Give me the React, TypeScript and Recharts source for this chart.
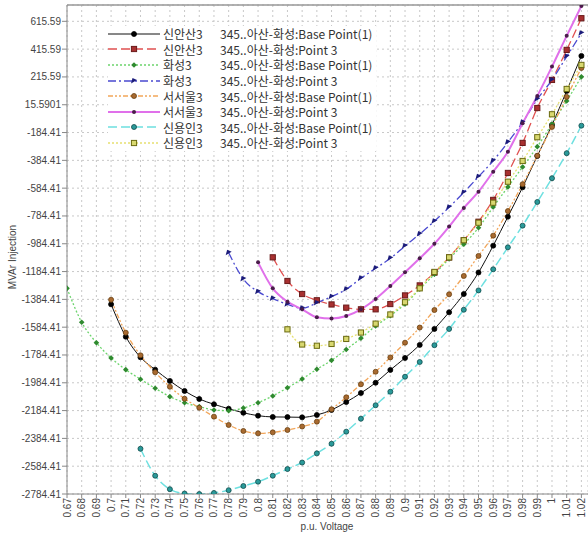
import React from 'react';
import { LineChart, Line, XAxis, YAxis, CartesianGrid, Legend, ReferenceLine } from 'recharts';

// p.u. voltage steps (x)
const voltages = [
  0.67, 0.68, 0.69, 0.7, 0.71, 0.72, 0.73, 0.74, 0.75, 0.76, 0.77, 0.78,
  0.79, 0.8, 0.81, 0.82, 0.83, 0.84, 0.85, 0.86, 0.87, 0.88, 0.89, 0.9,
  0.91, 0.92, 0.93, 0.94, 0.95, 0.96, 0.97, 0.98, 0.99, 1, 1.01, 1.02,
];
const xTickLabels = [
  '0.67', '0.68', '0.69', '0.7', '0.71', '0.72', '0.73', '0.74', '0.75', '0.76', '0.77', '0.78',
  '0.79', '0.8', '0.81', '0.82', '0.83', '0.84', '0.85', '0.86', '0.87', '0.88', '0.89', '0.9',
  '0.91', '0.92', '0.93', '0.94', '0.95', '0.96', '0.97', '0.98', '0.99', '1', '1.01', '1.02',
];

const yTicks = [
  -2784.41, -2584.41, -2384.41, -2184.41, -1984.41, -1784.41, -1584.41, -1384.41, -1184.41,
  -984.41, -784.41, -584.41, -384.41, -184.41, 15.5901, 215.59, 415.59, 615.59,
];
const yTickLabels = [
  '-2784.41', '-2584.41', '-2384.41', '-2184.41', '-1984.41', '-1784.41', '-1584.41', '-1384.41', '-1184.41',
  '-984.41', '-784.41', '-584.41', '-384.41', '-184.41', '15.5901', '215.59', '415.59', '615.59',
];

// MVAr injection, aligned with voltages (null = no point)
const sinansanBase = [
  null, null, null, -1420, -1653, -1801, -1890, -1971, -2043, -2101, -2139, -2171,
  -2200, -2221, -2230, -2231, -2233, -2216, -2180, -2123, -2058, -1984, -1892, -1806,
  -1712, -1597, -1477, -1346, -1191, -998, -790, -578, -353, -130, 115, 367,
];
const sinansanP3 = [
  null, null, null, null, null, null, null, null, null, null, null, null,
  null, null, -1082, -1252, -1346, -1391, -1421, -1444, -1456, -1456, -1418, -1356,
  -1284, -1192, -1083, -959, -826, -669, -475, -259, -8, 194, 410, 638,
];
const hwaseongBase = [
  -1305, -1549, -1696, -1806, -1890, -1959, -2024, -2084, -2128, -2156, -2180, -2185,
  -2166, -2128, -2079, -2020, -1957, -1887, -1823, -1745, -1664, -1576, -1502, -1418,
  -1310, -1204, -1092, -988, -869, -720, -576, -432, -286, -123, 43, 216,
];
const hwaseongP3 = [
  null, null, null, null, null, null, null, null, null, null, null, -1049,
  -1238, -1329, -1379, -1420, -1449, -1410, -1365, -1312, -1233, -1161, -1089, -1000,
  -914, -822, -722, -615, -502, -387, -254, -110, 55, 194, 362, 530,
];
const seoseoulBase = [
  null, null, null, -1387, -1624, -1787, -1909, -2013, -2099, -2164, -2228, -2288,
  -2331, -2348, -2341, -2324, -2299, -2264, -2175, -2089, -1995, -1905, -1802, -1696,
  -1587, -1461, -1348, -1216, -1072, -926, -749, -556, -351, -144, 72, 280,
];
const seoseoulP3 = [
  null, null, null, null, null, null, null, null, null, null, null, null,
  null, -1118, -1305, -1401, -1456, -1513, -1522, -1504, -1456, -1382, -1288, -1190,
  -1089, -984, -861, -727, -610, -466, -322, -118, 79, 290, 511, 726,
];
const sinyonginBase = [
  null, null, null, null, null, -2459, -2653, -2750, -2781, -2784.41, -2777, -2757,
  -2727, -2696, -2653, -2605, -2558, -2492, -2423, -2336, -2243, -2146, -2049, -1941,
  -1835, -1714, -1597, -1459, -1320, -1168, -1010, -854, -684, -513, -333, -135,
];
const sinyonginP3 = [
  null, null, null, null, null, null, null, null, null, null, null, null,
  null, null, null, -1600, -1709, -1718, -1705, -1669, -1623, -1559, -1493, -1405,
  -1305, -1187, -1082, -959, -833, -689, -538, -389, -218, -53, 129, 302,
];

const series = [
  { key: 's0', name: '신안산3', desc: '345..아산-화성:Base Point(1)', values: sinansanBase, color: '#111111', width: 1, dash: undefined, shape: 'circle', fill: '#000000', edge: '#000000' },
  { key: 's1', name: '신안산3', desc: '345..아산-화성:Point 3', values: sinansanP3, color: '#e05050', width: 1.3, dash: '9 4', shape: 'square', fill: '#a83030', edge: '#6a1a1a' },
  { key: 's2', name: '화성3', desc: '345..아산-화성:Base Point(1)', values: hwaseongBase, color: '#6cd46c', width: 1.3, dash: '2 2', shape: 'diamond', fill: '#2f8a2f', edge: '#2f8a2f' },
  { key: 's3', name: '화성3', desc: '345..아산-화성:Point 3', values: hwaseongP3, color: '#4a4ad0', width: 1.3, dash: '8 3 2 3', shape: 'arrow', fill: '#1c1c7a', edge: '#1c1c7a' },
  { key: 's4', name: '서서울3', desc: '345..아산-화성:Base Point(1)', values: seoseoulBase, color: '#f2a65a', width: 1.3, dash: '5 2 2 2 2 2', shape: 'circle', fill: '#a86a30', edge: '#6a4010' },
  { key: 's5', name: '서서울3', desc: '345..아산-화성:Point 3', values: seoseoulP3, color: '#e070ea', width: 2, dash: undefined, shape: 'dot', fill: '#4a1c4a', edge: '#4a1c4a' },
  { key: 's6', name: '신용인3', desc: '345..아산-화성:Base Point(1)', values: sinyonginBase, color: '#6ee0e0', width: 1.5, dash: '9 4', shape: 'circle', fill: '#2a9a9a', edge: '#104a4a' },
  { key: 's7', name: '신용인3', desc: '345..아산-화성:Point 3', values: sinyonginP3, color: '#e6e070', width: 1.3, dash: '2 2', shape: 'square', fill: '#d8d870', edge: '#6a6a10' },
];

const rows = voltages.map((v, i) => {
  const row: any = { v };
  series.forEach((s) => { row[s.key] = s.values[i]; });
  return row;
});

const tickFont = '"Liberation Sans", Arial, sans-serif';

function Marker({ shape, cx, cy, fill, edge }: any) {
  if (shape === 'square') {
    return <rect x={cx - 2.6} y={cy - 2.6} width={5.2} height={5.2} fill={fill} stroke={edge} strokeWidth={1} />;
  }
  if (shape === 'diamond') {
    return <path d={`M${cx},${cy - 2.8}L${cx + 2.8},${cy}L${cx},${cy + 2.8}L${cx - 2.8},${cy}Z`} fill={fill} />;
  }
  if (shape === 'arrow') {
    return <path d={`M${cx - 3},${cy + 2.5}L${cx + 3},${cy - 1}L${cx - 1.5},${cy - 3}Z`} fill={fill} />;
  }
  if (shape === 'dot') {
    return <circle cx={cx} cy={cy} r={2} fill={fill} />;
  }
  return <circle cx={cx} cy={cy} r={2.5} fill={fill} stroke={edge} strokeWidth={0.8} />;
}

const makeDot = (s: any) => (p: any) => {
  const { cx, cy, index, value } = p;
  if (cx == null || cy == null || value == null || Number.isNaN(cy)) return <g key={`${s.key}-${index}`} />;
  return <g key={`${s.key}-${index}`}><Marker shape={s.shape} cx={cx} cy={cy} fill={s.fill} edge={s.edge} /></g>;
};

const XTick = ({ x, y, payload, index }: any) => (
  <text
    x={x}
    y={y}
    dy={3.5}
    transform={`rotate(-90 ${x} ${y})`}
    textAnchor="end"
    fontSize={10}
    fontFamily={tickFont}
    fill="#444"
  >
    {xTickLabels[voltages.indexOf(payload.value)] ?? xTickLabels[index]}
  </text>
);

const YTick = ({ x, y, payload, index }: any) => (
  <text x={x} y={y} dy={3.5} textAnchor="end" fontSize={10} fontFamily={tickFont} fill="#444">
    {yTickLabels[yTicks.indexOf(payload.value)] ?? yTickLabels[index]}
  </text>
);

const xLabel = () => (
  <text x={327} y={530} textAnchor="middle" fontSize={10} fontFamily={tickFont} fill="#444">
    p.u. Voltage
  </text>
);

const yLabel = () => (
  <text x={16} y={257} transform="rotate(-90 16 257)" textAnchor="middle" fontSize={10} fontFamily={tickFont} fill="#444">
    MVAr Injection
  </text>
);

const LegendBox = () => (
  <div style={{ background: '#fff', padding: '0 4px 0 0', fontFamily: '"Noto Sans CJK KR", sans-serif', fontSize: 12, color: '#333' }}>
    {series.map((s) => (
      <div key={s.key} style={{ display: 'flex', alignItems: 'center', height: 15.6, whiteSpace: 'pre' }}>
        <svg width={52} height={12} style={{ marginRight: 3 }}>
          <line x1={0} y1={6} x2={52} y2={6} stroke={s.color} strokeWidth={s.width} strokeDasharray={s.dash} />
          <Marker shape={s.shape} cx={26} cy={6} fill={s.fill} edge={s.edge} />
        </svg>
        <span style={{ display: 'inline-block', width: 57 }}>{s.name}</span>
        <span>{s.desc}</span>
      </div>
    ))}
  </div>
);

export default function App() {
  return (
    <div style={{ position: 'absolute', left: 0, top: 0, width: 588, height: 538, background: '#fff' }}>
      <LineChart width={588} height={538} data={rows} margin={{ top: 5, right: 0, left: 0, bottom: 0 }}>
        <CartesianGrid stroke="#c8c8c8" strokeDasharray="2 3" />
        <XAxis
          dataKey="v"
          type="number"
          domain={[0.67, 1.0245]}
          ticks={voltages}
          interval={0}
          allowDataOverflow
          height={44}
          stroke="#888"
          tickSize={4}
          tickMargin={0}
          tick={<XTick />}
          label={xLabel}
        />
        <YAxis
          type="number"
          domain={[-2784.41, 733]}
          ticks={yTicks}
          interval={0}
          allowDataOverflow
          width={67}
          stroke="#888"
          tickSize={5}
          tickMargin={1}
          tick={<YTick />}
          label={yLabel}
        />
        <ReferenceLine y={733} stroke="#999" strokeWidth={1.5} />
        <Legend
          layout="vertical"
          align="center"
          verticalAlign="middle"
          wrapperStyle={{ top: 26, left: 108, width: 'auto' }}
          content={() => <LegendBox />}
        />
        {series.map((s) => (
          <Line
            key={s.key}
            dataKey={s.key}
            name={s.name}
            type="monotone"
            stroke={s.color}
            strokeWidth={s.width}
            strokeDasharray={s.dash}
            dot={makeDot(s)}
            activeDot={false}
            isAnimationActive={false}
          />
        ))}
      </LineChart>
    </div>
  );
}
